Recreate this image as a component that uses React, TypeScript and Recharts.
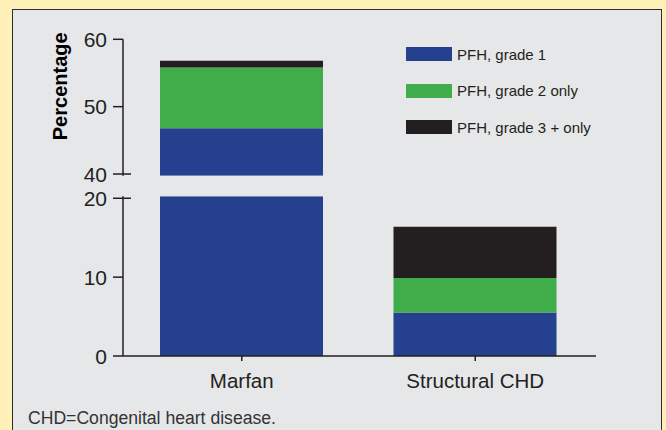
import { BarChart, Bar, XAxis, YAxis, Legend } from 'recharts';

// values (percent)
const categories = ['Marfan', 'Structural CHD'];
const grade1 = [46.8, 5.5];
const grade2Only = [9.0, 4.4];
const grade3PlusOnly = [1.0, 6.5];
const seriesNames = ['PFH, grade 1', 'PFH, grade 2 only', 'PFH, grade 3 + only'];
const lowerTicks = [0, 10, 20];
const upperTicks = [40, 50, 60];
const breakTicks = [20, 40];
const yLabel = 'Percentage';
const footnote = 'CHD=Congenital heart disease.';

const BLUE = '#24408e';
const GREEN = '#41ad4a';
const BLACK = '#231f20';
const INK = '#231f20';
const FONT = '"Liberation Sans", Arial, sans-serif';

const W = 666;
const H = 430;
const TICK_SIZE = 10;
const TICK_MARGIN = 6;

const data = categories.map((name, i) => ({
  name,
  g1: grade1[i],
  g2: grade2Only[i],
  g3: grade3PlusOnly[i],
}));

// y tick with a small cross mark on the break values
function YTick({ x, y, payload }: any) {
  const axisX = x + TICK_SIZE + TICK_MARGIN;
  return (
    <g>
      <text x={x} y={y} dy="0.36em" textAnchor="end" fontSize={21} fill={INK} fontFamily={FONT}>
        {payload.value}
      </text>
      {breakTicks.includes(payload.value) && (
        <line x1={axisX} x2={axisX + 8} y1={y} y2={y} stroke={INK} strokeWidth={1.5} />
      )}
    </g>
  );
}

function LegendContent({ payload }: any) {
  return (
    <div>
      {(payload || []).map((item: any) => (
        <div key={item.value} style={{ display: 'flex', alignItems: 'center', height: 36.5 }}>
          <span style={{ display: 'inline-block', width: 46, height: 14, background: item.color, marginRight: 5 }} />
          <span style={{ fontSize: 15, color: INK, fontFamily: FONT, whiteSpace: 'nowrap' }}>{item.value}</span>
        </div>
      ))}
    </div>
  );
}

const renderYLabel = ({ viewBox }: any) => (
  <text
    transform={`translate(${viewBox.x + 4}, ${viewBox.y + 47}) rotate(-90)`}
    textAnchor="middle"
    fontSize={20}
    fontWeight="bold"
    fill="#000"
    fontFamily={FONT}
  >
    {yLabel}
  </text>
);

function Bars() {
  return (
    <>
      <Bar dataKey="g1" name={seriesNames[0]} stackId="a" fill={BLUE} barSize={163} isAnimationActive={false} />
      <Bar dataKey="g2" name={seriesNames[1]} stackId="a" fill={GREEN} barSize={163} isAnimationActive={false} />
      <Bar dataKey="g3" name={seriesNames[2]} stackId="a" fill={BLACK} barSize={163} isAnimationActive={false} />
    </>
  );
}

export default function App() {
  const axisLine = { stroke: INK, strokeWidth: 1.5 };
  return (
    <div style={{ position: 'absolute', left: 0, top: 0, width: W, height: H, background: '#fff0b8', overflow: 'hidden' }}>
      <div
        style={{
          position: 'absolute',
          left: 12,
          top: 9,
          width: 648,
          height: 440,
          background: '#e6e7e9',
          border: '1.5px solid #2e2e2e',
        }}
      />

      {/* lower panel: 0 - 20 */}
      <div style={{ position: 'absolute', left: 0, top: 0 }}>
        <BarChart width={W} height={H} data={data} margin={{ top: 196.3, right: 70, bottom: 34, left: 63 }}>
          <XAxis
            dataKey="name"
            height={40}
            padding={{ left: 2, right: 4 }}
            axisLine={axisLine}
            tickLine={axisLine}
            tickSize={5}
            tickMargin={12}
            tick={{ fontSize: 20.5, fill: INK, fontFamily: FONT }}
          />
          <YAxis
            width={60}
            domain={[0, 20.25]}
            ticks={lowerTicks}
            allowDataOverflow
            axisLine={axisLine}
            tickLine={axisLine}
            tickSize={TICK_SIZE}
            tickMargin={TICK_MARGIN}
            tick={<YTick />}
          />
          {Bars()}
        </BarChart>
      </div>

      {/* upper panel: 40 - 60 */}
      <div style={{ position: 'absolute', left: 0, top: 0 }}>
        <BarChart width={W} height={H} data={data} margin={{ top: 39.3, right: 70, bottom: 254.3, left: 63 }}>
          <XAxis dataKey="name" hide padding={{ left: 2, right: 4 }} />
          <YAxis
            width={60}
            domain={[39.75, 60]}
            ticks={upperTicks}
            allowDataOverflow
            axisLine={axisLine}
            tickLine={axisLine}
            tickSize={TICK_SIZE}
            tickMargin={TICK_MARGIN}
            tick={<YTick />}
            label={renderYLabel}
          />
          {Bars()}
          <Legend
            layout="vertical"
            align="center"
            verticalAlign="middle"
            content={<LegendContent />}
            wrapperStyle={{ left: 406, top: 36, width: 240 }}
          />
        </BarChart>
      </div>

      <div
        style={{
          position: 'absolute',
          left: 28,
          top: 408,
          fontSize: 17.6,
          color: '#333',
          fontFamily: FONT,
          whiteSpace: 'nowrap',
        }}
      >
        {footnote}
      </div>
    </div>
  );
}
